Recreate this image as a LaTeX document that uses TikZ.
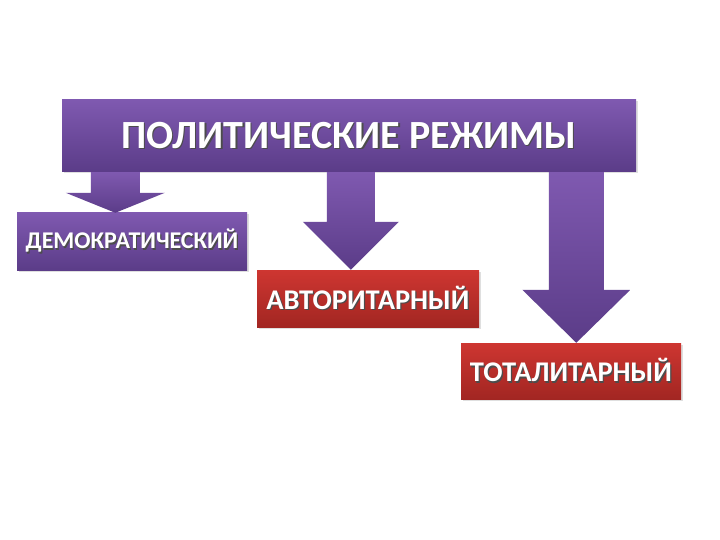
\documentclass[tikz,border=0pt]{standalone}
\usepackage{fontspec}
\setmainfont{Carlito}
\usetikzlibrary{calc,shadows}
\definecolor{purT}{HTML}{7F59B0}
\definecolor{purB}{HTML}{5B3C88}
\definecolor{redT}{HTML}{CE3631}
\definecolor{redB}{HTML}{A22622}
\newcommand{\shtxt}[1]{\makebox[0pt][l]{\kern1.2pt\raisebox{-1.2pt}{\color{black!70}#1}}#1}
\newcommand{\blockarrow}[5]{%
  \shade[barrow] let \p1=(#1), \p2=(#2) in
    (\x2-#3,\y1) -- (\x2+#3,\y1) -- (\x2+#3,\y2+#5) -- (\x2+#4,\y2+#5)
    -- (\x2,\y2) -- (\x2-#4,\y2+#5) -- (\x2-#3,\y2+#5) -- cycle;}
\tikzset{
  basebox/.style={rectangle, inner sep=0pt, text=white, font=\bfseries,
    drop shadow={shadow xshift=1.5pt, shadow yshift=-1.5pt, opacity=0.25}},
  pbox/.style={basebox, top color=purT, bottom color=purB},
  rbox/.style={basebox, top color=redT, bottom color=redB},
  barrow/.style={top color=purT, bottom color=purB},
  bigtxt/.style={font=\bfseries\fontsize{40}{48}\selectfont},
  demotxt/.style={font=\bfseries\fontsize{24}{29}\selectfont},
  smalltxt/.style={font=\bfseries\fontsize{28.5}{34}\selectfont}
}
\begin{document}
\begin{tikzpicture}[x=1pt,y=-1pt]
\useasboundingbox (0,0) rectangle (720,540);
\fill[white] (0,0) rectangle (720,540);

\node[pbox, bigtxt, minimum width=574pt, minimum height=72pt] (top) at (349,136)
  {\shtxt{ПОЛИТИЧЕСКИЕ РЕЖИМЫ}};
\node[pbox, demotxt, minimum width=230pt, minimum height=57pt, text width=230pt, align=center] (demo) at (132,241.5)
  {\shtxt{ДЕМОКРАТИЧЕСКИЙ}};
\node[rbox, smalltxt, minimum width=222pt, minimum height=57pt] (auth) at (368,298.5)
  {\shtxt{АВТОРИТАРНЫЙ}};
\node[rbox, smalltxt, minimum width=220pt, minimum height=56pt] (tot) at (571,371)
  {\shtxt{ТОТАЛИТАРНЫЙ}};

\coordinate (e1) at ($(demo.north west)+(98.5,0)$);
\coordinate (e2) at ($(auth.north west)+(94,0)$);
\coordinate (e3) at ($(tot.north west)+(115.5,0)$);

\blockarrow{top.south}{e1}{24.5pt}{49.5pt}{20pt}
\blockarrow{top.south}{e2}{24pt}{48pt}{48pt}
\blockarrow{top.south}{e3}{27.5pt}{54pt}{53pt}
\end{tikzpicture}
\end{document}
